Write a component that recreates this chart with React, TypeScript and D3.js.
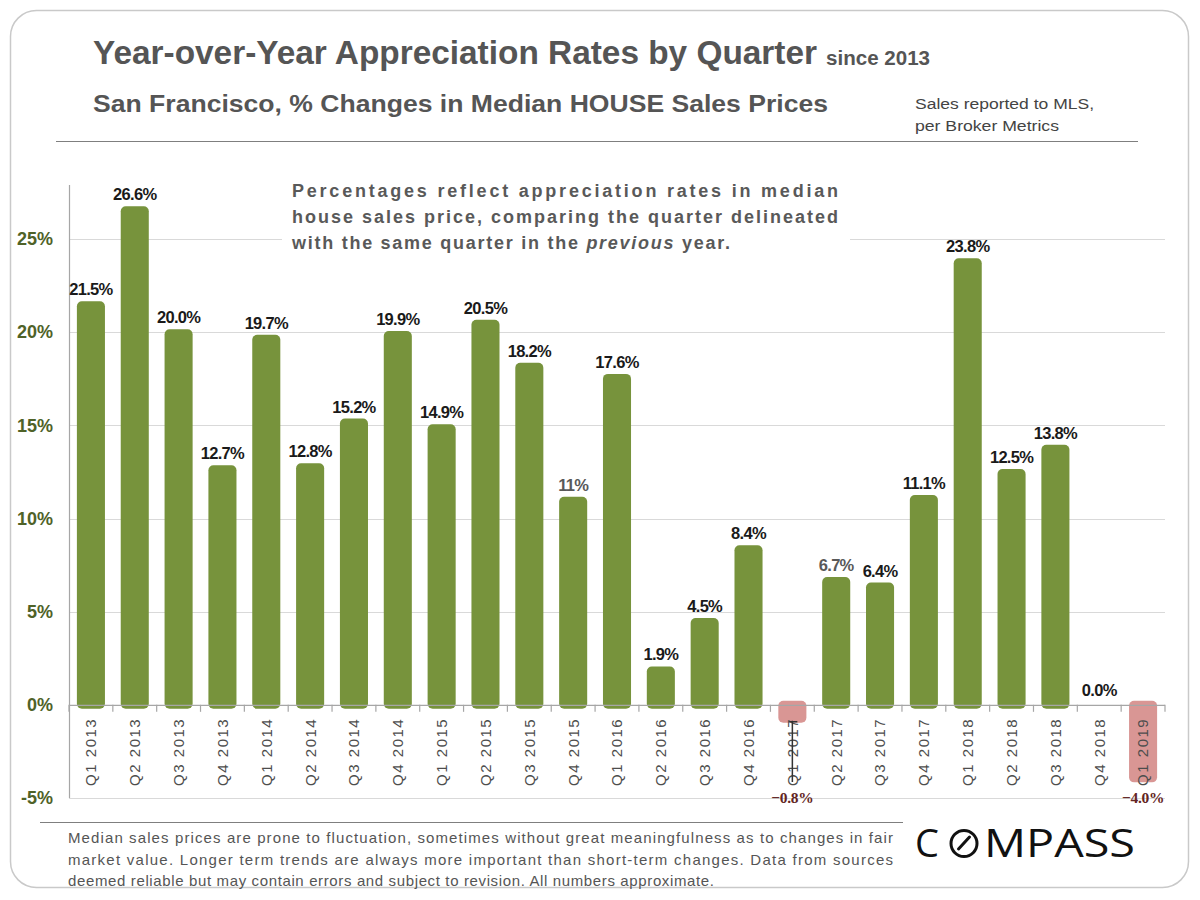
import * as d3 from 'd3';
import React, { useEffect, useRef } from 'react';

const quarters = [
  'Q1 2013', 'Q2 2013', 'Q3 2013', 'Q4 2013',
  'Q1 2014', 'Q2 2014', 'Q3 2014', 'Q4 2014',
  'Q1 2015', 'Q2 2015', 'Q3 2015', 'Q4 2015',
  'Q1 2016', 'Q2 2016', 'Q3 2016', 'Q4 2016',
  'Q1 2017', 'Q2 2017', 'Q3 2017', 'Q4 2017',
  'Q1 2018', 'Q2 2018', 'Q3 2018', 'Q4 2018',
  'Q1 2019',
];
const appreciation = [
  21.5, 26.6, 20.0, 12.7,
  19.7, 12.8, 15.2, 19.9,
  14.9, 20.5, 18.2, 11,
  17.6, 1.9, 4.5, 8.4,
  -0.8, 6.7, 6.4, 11.1,
  23.8, 12.5, 13.8, 0.0,
  -4.0,
];
const yTicks = [-5, 0, 5, 10, 15, 20, 25];
// labels the source printed differently / in a lighter grey
const labelOverrides: Record<string, string> = { 'Q4 2015': '11%' };
const mutedQuarters = ['Q4 2015', 'Q2 2017'];

const noteLines = [
  'Percentages reflect appreciation rates in median',
  'house sales price, comparing the quarter delineated',
];
const footerLines = [
  'Median sales prices are prone to fluctuation, sometimes without great meaningfulness as to changes in fair',
  'market value. Longer term trends are always more important than short-term changes. Data from sources',
  'deemed reliable but may contain errors and subject to revision. All numbers approximate.',
];

const SANS = "'Liberation Sans', Arial, sans-serif";
const SERIF = "'Liberation Serif', 'Times New Roman', serif";
const GREEN = '#77933c';
const PINK = '#d99694';

const App: React.FC = () => {
  const svgRef = useRef<SVGSVGElement | null>(null);

  useEffect(() => {
    if (!svgRef.current) return;
    const svg = d3.select(svgRef.current);
    svg.selectAll('*').remove();

    const left = 69;
    const right = 1165;

    const x = d3.scaleBand().domain(quarters).range([left, right]).paddingInner(0.36).paddingOuter(0.18);
    const y = d3.scaleLinear().domain([-5, 25]).range([798, 239]);
    const data = quarters.map((q, i) => ({ q, v: appreciation[i] }));
    const cx = (q: string) => (x(q) || 0) + x.bandwidth() / 2;

    // card
    svg.append('rect')
      .attr('x', 10.5).attr('y', 10.5).attr('width', 1178).attr('height', 877)
      .attr('rx', 26).attr('fill', '#fff').attr('stroke', '#c9c9c9').attr('stroke-width', 1.5);

    // header
    svg.append('text').attr('x', 93).attr('y', 64)
      .attr('font-family', SANS).attr('font-weight', 'bold').attr('fill', '#555')
      .attr('font-size', 33).attr('textLength', 724).attr('lengthAdjust', 'spacingAndGlyphs')
      .text('Year-over-Year Appreciation Rates by Quarter');
    svg.append('text').attr('x', 826).attr('y', 65).attr('font-family', SANS)
      .attr('font-weight', 'bold').attr('font-size', 20).attr('fill', '#555')
      .attr('textLength', 104).attr('lengthAdjust', 'spacingAndGlyphs').text('since  2013');

    svg.append('text').attr('x', 93).attr('y', 112).attr('font-family', SANS)
      .attr('font-weight', 'bold').attr('font-size', 23).attr('fill', '#555')
      .attr('textLength', 735).attr('lengthAdjust', 'spacingAndGlyphs')
      .text('San Francisco, % Changes in Median HOUSE  Sales Prices');

    svg.append('text').attr('x', 915).attr('y', 109).attr('font-family', SANS)
      .attr('font-size', 15.5).attr('fill', '#444')
      .attr('textLength', 179).attr('lengthAdjust', 'spacingAndGlyphs').text('Sales reported to MLS,');
    svg.append('text').attr('x', 915).attr('y', 131).attr('font-family', SANS)
      .attr('font-size', 15.5).attr('fill', '#444')
      .attr('textLength', 144).attr('lengthAdjust', 'spacingAndGlyphs').text('per Broker Metrics');

    svg.append('line').attr('x1', 56).attr('x2', 1138).attr('y1', 141.5).attr('y2', 141.5)
      .attr('stroke', '#7f7f7f').attr('stroke-width', 1.2);

    // gridlines
    svg.append('g').selectAll('line')
      .data(yTicks.filter((t) => t !== 0))
      .join('line')
      .attr('x1', left).attr('x2', right)
      .attr('y1', (d) => Math.round(y(d)) + 0.5).attr('y2', (d) => Math.round(y(d)) + 0.5)
      .attr('stroke', '#d9d9d9').attr('stroke-width', 1.2);

    // note box (covers the gridline)
    svg.append('rect').attr('x', 282).attr('y', 176).attr('width', 568).attr('height', 86).attr('fill', '#fff');
    const note = svg.append('g').attr('font-family', SANS).attr('font-weight', 'bold')
      .attr('font-size', 18).attr('fill', '#595959');
    noteLines.forEach((line, i) => {
      note.append('text').attr('x', 292).attr('y', 197 + i * 26)
        .attr('textLength', 546).attr('lengthAdjust', 'spacing').text(line);
    });
    const last = note.append('text').attr('x', 292).attr('y', 249)
      .attr('textLength', 438).attr('lengthAdjust', 'spacing');
    last.append('tspan').text('with the same quarter in the ');
    last.append('tspan').attr('font-style', 'italic').text('previous');
    last.append('tspan').text('  year.');

    // y axis
    svg.append('line').attr('x1', left + 0.5).attr('x2', left + 0.5).attr('y1', 185).attr('y2', y(-5))
      .attr('stroke', '#a6a6a6').attr('stroke-width', 1.2);
    svg.append('g').selectAll('text')
      .data(yTicks)
      .join('text')
      .attr('x', 53).attr('y', (d) => y(d)).attr('dy', '0.35em')
      .attr('text-anchor', 'end').attr('font-family', SANS).attr('font-weight', 'bold')
      .attr('font-size', 18).attr('fill', '#4f6228')
      .text((d) => `${d}%`);

    // bars
    svg.append('g').selectAll('rect')
      .data(data.filter((d) => d.v !== 0))
      .join('rect')
      .attr('x', (d) => x(d.q) || 0)
      .attr('width', x.bandwidth())
      .attr('y', (d) => (d.v > 0 ? y(d.v) - 3 : y(0) - 4))
      .attr('height', (d) => Math.abs(y(d.v) - y(0)) + 7)
      .attr('rx', 5)
      .attr('fill', (d) => (d.v > 0 ? GREEN : PINK));

    // zero axis with ticks between categories
    svg.append('line').attr('x1', left).attr('x2', right).attr('y1', y(0) + 0.5).attr('y2', y(0) + 0.5)
      .attr('stroke', '#a6a6a6').attr('stroke-width', 1.2);
    const edges = quarters.map((q) => (x(q) || 0) - (x.step() - x.bandwidth()) / 2).concat([right]);
    svg.append('g').selectAll('line')
      .data(edges)
      .join('line')
      .attr('x1', (d) => d).attr('x2', (d) => d)
      .attr('y1', y(0)).attr('y2', y(0) + 7)
      .attr('stroke', '#a6a6a6').attr('stroke-width', 1.2);

    // category labels
    svg.append('g').selectAll('text')
      .data(quarters)
      .join('text')
      .attr('transform', (d) => `translate(${cx(d)},${y(0) + 13}) rotate(-90)`)
      .attr('dy', '0.36em')
      .attr('text-anchor', 'end')
      .attr('font-family', SANS).attr('font-size', 15).attr('letter-spacing', 1.5)
      .attr('fill', '#4d4d4d')
      .text((d) => d);

    // leader line for small negative value
    const lead = data.filter((d) => d.v < 0 && y(-5) - y(d.v) > 30);
    lead.forEach((d) => {
      svg.append('line').attr('x1', cx(d.q)).attr('x2', cx(d.q))
        .attr('y1', y(d.v) + 1).attr('y2', y(-5) - 16)
        .attr('stroke', '#333').attr('stroke-width', 1.5);
      svg.append('line').attr('x1', cx(d.q) - 3).attr('x2', cx(d.q) + 5)
        .attr('y1', y(d.v) + 2).attr('y2', y(d.v) + 2)
        .attr('stroke', '#333').attr('stroke-width', 1.5);
    });

    // value labels
    svg.append('g').selectAll('text')
      .data(data)
      .join('text')
      .attr('x', (d) => cx(d.q))
      .attr('y', (d) => (d.v >= 0 ? y(d.v) - 9 : y(-5) + 5))
      .attr('text-anchor', 'middle')
      .attr('font-family', (d) => (d.v >= 0 ? SANS : SERIF))
      .attr('font-weight', 'bold')
      .attr('font-size', (d) => (d.v >= 0 ? 16.5 : 15.5))
      .attr('letter-spacing', (d) => (d.v >= 0 ? -0.7 : -0.3))
      .attr('fill', (d) => (d.v < 0 ? '#632523' : mutedQuarters.includes(d.q) ? '#595959' : '#1a1a1a'))
      .text((d) => labelOverrides[d.q] ?? `${d3.format('.1f')(d.v)}%`);

    // footer
    svg.append('line').attr('x1', 40).attr('x2', 903).attr('y1', 822.5).attr('y2', 822.5)
      .attr('stroke', '#7f7f7f').attr('stroke-width', 1.2);
    const foot = svg.append('g').attr('font-family', SANS).attr('font-size', 15).attr('fill', '#555');
    footerLines.forEach((line, i) => {
      foot.append('text').attr('x', 68).attr('y', 843 + i * 21.5)
        .attr('textLength', i < 2 ? 825 : 646).attr('lengthAdjust', 'spacing')
        .text(line);
    });

    // logo
    const logo = svg.append('g').attr('fill', '#111');
    logo.append('text').attr('x', 915).attr('y', 857).attr('font-family', "'Open Sans', sans-serif")
      .attr('font-size', 38).text('C');
    logo.append('circle').attr('cx', 964).attr('cy', 843.5).attr('r', 13)
      .attr('fill', 'none').attr('stroke', '#111').attr('stroke-width', 3);
    logo.append('line').attr('x1', 958.5).attr('y1', 849).attr('x2', 969.5).attr('y2', 837)
      .attr('stroke', '#111').attr('stroke-width', 3).attr('stroke-linecap', 'round');
    logo.append('text').attr('x', 984).attr('y', 857).attr('font-family', "'Open Sans', sans-serif")
      .attr('font-size', 38).attr('textLength', 151).attr('lengthAdjust', 'spacingAndGlyphs').text('MPASS');
  }, []);

  return (
    <div style={{ position: 'absolute', left: 0, top: 0, width: 1200, height: 900, background: '#fff' }}>
      <svg ref={svgRef} width={1200} height={900} role="img" aria-label="Year-over-Year Appreciation Rates by Quarter" />
    </div>
  );
};

export default App;
